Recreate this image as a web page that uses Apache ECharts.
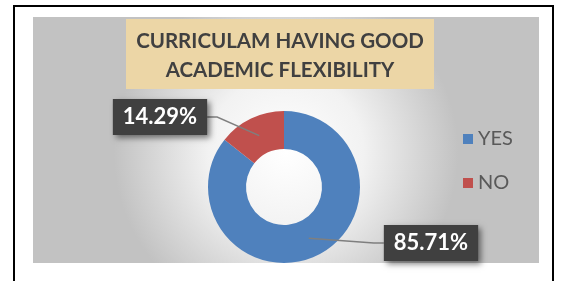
<!DOCTYPE html>
<html><head><meta charset="utf-8">
<script src="https://cdn.jsdelivr.net/npm/echarts@6/dist/echarts.min.js"></script>
<style>html,body{margin:0;padding:0;background:#fff}#c{width:561px;height:281px}</style>
</head><body><div id="c"></div>
<script>
const categories = ['YES', 'NO'];
const values = [85.71, 14.29];
const colors = ['#4f81bd', '#c0504d'];
const titleLines = ['CURRICULAM HAVING GOOD', 'ACADEMIC FLEXIBILITY'];

const chart = echarts.init(document.getElementById('c'));
const labelPos = [{x: 431, y: 243}, {x: 160, y: 117}];
const pieData = categories.map((c, i) => ({name: c, value: values[i]}));
chart.setOption({
  animation: false,
  graphic: [
    {type: 'rect', shape: {x: 14, y: 6, width: 539, height: 290}, style: {fill: '#fff', stroke: '#000', lineWidth: 2}, z: -10},
    {type: 'rect', shape: {x: 33, y: 17, width: 506, height: 246},
      style: {fill: new echarts.graphic.RadialGradient(0.5, 0.55, 0.7, [{offset: 0, color: '#ffffff'}, {offset: 0.45, color: '#f2f2f2'}, {offset: 1, color: '#c2c2c2'}])}, z: -9},
    {type: 'rect', shape: {x: 126, y: 19, width: 308, height: 70}, style: {fill: '#ecd6a6'}, z: -8},
    {type: 'text', z: 10, style: {x: 280, y: 41, text: titleLines[0], fill: '#404040', font: 'bold 20.5px Lato', align: 'center', verticalAlign: 'middle'}},
    {type: 'text', z: 10, style: {x: 280, y: 70, text: titleLines[1], fill: '#404040', font: 'bold 20.5px Lato', align: 'center', verticalAlign: 'middle'}}
  ],
  color: colors,
  legend: {
    orient: 'vertical', left: 457, top: 124, itemWidth: 10, itemHeight: 10, itemGap: 24,
    icon: 'rect', textStyle: {fontSize: 20, color: '#595959', fontFamily: 'Lato'},
    data: categories
  },
  series: [{
    type: 'pie', center: [284, 187], radius: [38, 76], startAngle: 90, clockwise: true,
    data: pieData, silent: true,
    itemStyle: {borderColor: 'transparent'},
    label: {show: false}, labelLine: {show: false}
  }, {
    type: 'pie', center: [284, 187], radius: [0, 57], startAngle: 90, clockwise: true, z: 5,
    data: pieData, silent: true,
    itemStyle: {color: 'transparent', borderColor: 'transparent'},
    label: {
      show: true, formatter: p => p.value.toFixed(2) + '%',
      color: '#fff', fontWeight: 'bold', fontSize: 22, fontFamily: 'Lato',
      backgroundColor: '#404040', padding: [8, 10, 6, 10],
      shadowBlur: 6, shadowColor: 'rgba(0,0,0,0.5)', shadowOffsetX: 3, shadowOffsetY: 3
    },
    labelLine: {show: true, length: 10, length2: 10, lineStyle: {color: '#7f7f7f', width: 1.5}},
    labelLayout: p => ({x: labelPos[p.dataIndex].x, y: labelPos[p.dataIndex].y, align: 'center', verticalAlign: 'middle'})
  }]
});
</script></body></html>
